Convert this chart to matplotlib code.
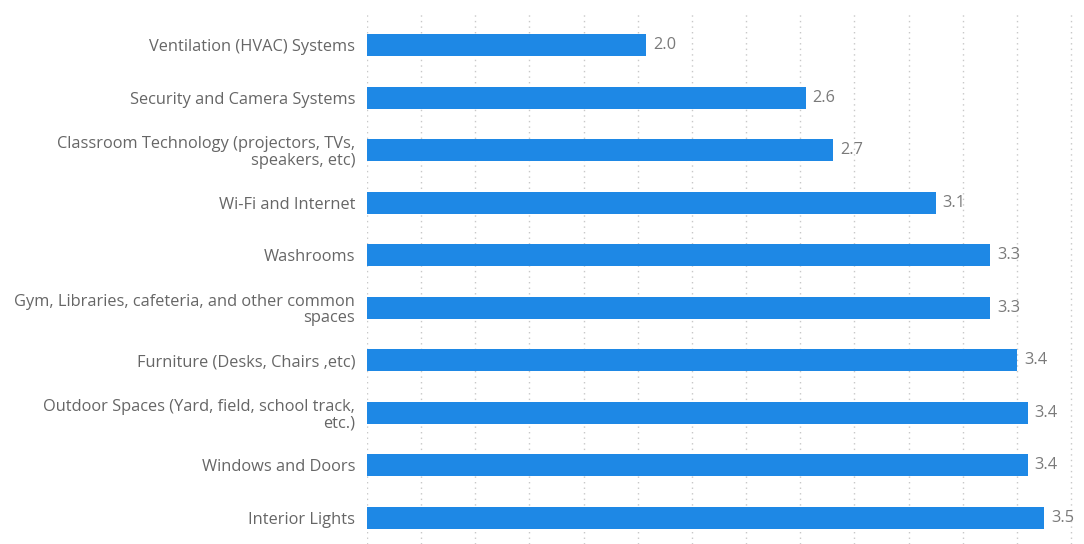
import numpy as np
import matplotlib.pyplot as plt

# Average rating per school facility area
categories = [
    "Ventilation (HVAC) Systems",
    "Security and Camera Systems",
    "Classroom Technology (projectors, TVs,\nspeakers, etc)",
    "Wi-Fi and Internet",
    "Washrooms",
    "Gym, Libraries, cafeteria, and other common\nspaces",
    "Furniture (Desks, Chairs ,etc)",
    "Outdoor Spaces (Yard, field, school track,\netc.)",
    "Windows and Doors",
    "Interior Lights",
]
ratings = [2.03, 2.62, 2.72, 3.10, 3.30, 3.30, 3.40, 3.44, 3.44, 3.50]

axis_min = 1.0
grid_ticks = np.arange(1.0, 3.61, 0.2)

plt.rcParams['font.family'] = ['Open Sans', 'DejaVu Sans']

fig = plt.figure(figsize=(10.84, 5.44), dpi=100)
ax = fig.add_axes([0.3386, 0.0, 0.6614, 0.98])

y = np.arange(len(categories))
ax.barh(y, np.array(ratings) - axis_min, left=axis_min, height=0.42,
        color='#1e88e5', zorder=3)

for yi, v in zip(y, ratings):
    ax.text(v + 0.026, yi, f"{v:.1f}", va='center', ha='left',
            fontsize=11.8, color='#7a7a7a')

ax.set_yticks(y)
ax.set_yticklabels(categories, fontsize=11.8, color='#666666', linespacing=1.05)
ax.tick_params(axis='y', length=0, pad=8.5)
ax.set_xticks(grid_ticks)
ax.tick_params(axis='x', length=0, labelbottom=False)
ax.xaxis.grid(True, linestyle=(0, (1, 3)), color='#c8c8c8', linewidth=1.0, zorder=0)
ax.yaxis.grid(False)

ax.set_xlim(axis_min, 3.648)
ax.set_ylim(9.5, -0.65)

for s in ax.spines.values():
    s.set_visible(False)

fig.savefig('out.png', dpi=100, facecolor='white')
